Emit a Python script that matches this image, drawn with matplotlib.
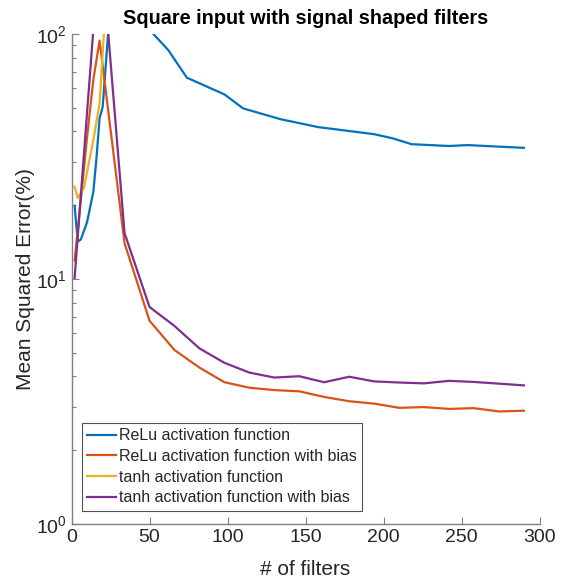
import matplotlib
matplotlib.use("Agg")
import matplotlib.pyplot as plt
from matplotlib.ticker import LogLocator, LogFormatterMathtext, NullFormatter

plt.rcParams['font.family'] = ['Liberation Sans', 'DejaVu Sans']
plt.rcParams['mathtext.fontset'] = 'custom'
plt.rcParams['mathtext.rm'] = 'Liberation Sans'

# Mean squared error (%) versus number of filters
relu_x = [2, 4, 6, 10, 14, 16, 18, 20, 26, 38, 50, 62, 74, 98, 110, 134, 158,
          194, 206, 218, 242, 254, 290]
relu_mse = [19.9, 14.2, 14.5, 17.1, 22.7, 31.1, 45.3, 50.5, 167, 130, 104,
            86.0, 66.3, 56.7, 49.7, 44.9, 41.7, 39.0, 37.5, 35.5, 34.9, 35.2, 34.3]

relu_bias_x = [2, 6, 10, 14, 18, 34, 50, 66, 82, 98, 114, 130, 146, 162, 178,
               194, 210, 226, 242, 258, 274, 290]
relu_bias_mse = [11.9, 21.1, 38.0, 65.0, 94.0, 14.0, 6.76, 5.13, 4.35, 3.79,
                 3.60, 3.52, 3.48, 3.30, 3.17, 3.10, 2.98, 3.00, 2.95, 2.97,
                 2.88, 2.90]

tanh_x = [2, 4, 8, 14, 18, 22]
tanh_mse = [23.8, 21.4, 23.5, 36.9, 52.0, 135]

tanh_bias_x = [2, 6, 10, 14, 18, 22, 34, 50, 66, 82, 98, 114, 130, 146, 162,
               178, 194, 210, 226, 242, 258, 274, 290]
tanh_bias_mse = [10.1, 22.0, 48.0, 104, 170, 133, 15.4, 7.69, 6.43, 5.21, 4.55,
                 4.15, 3.96, 4.01, 3.79, 3.99, 3.82, 3.78, 3.75, 3.84, 3.80,
                 3.74, 3.68]

series_labels = ["ReLu activation function",
                 "ReLu activation function with bias",
                 "tanh activation function",
                 "tanh activation function with bias"]
colors = ["#0072BD", "#D95319", "#EDB120", "#7E2F8E"]

W, H = 564, 584
fig = plt.figure(figsize=(W / 100, H / 100), dpi=100)
ax_left, ax_right, ax_top, ax_bottom = 71.5, 539.5, 34, 524
ax = fig.add_axes([ax_left / W, 1 - ax_bottom / H,
                   (ax_right - ax_left) / W, (ax_bottom - ax_top) / H])

for xs, ys, lab, c in zip([relu_x, relu_bias_x, tanh_x, tanh_bias_x],
                          [relu_mse, relu_bias_mse, tanh_mse, tanh_bias_mse],
                          series_labels, colors):
    ax.plot(xs, ys, color=c, lw=1.6, label=lab)

ax.set_yscale('log')
ax.set_xlim(0, 300)
ax.set_ylim(1, 100)
ax.set_xticks(range(0, 301, 50))
ax.yaxis.set_major_locator(LogLocator(base=10, numticks=5))
ax.yaxis.set_major_formatter(LogFormatterMathtext())
ax.yaxis.set_minor_locator(LogLocator(base=10, subs=range(2, 10), numticks=20))
ax.yaxis.set_minor_formatter(NullFormatter())

axis_grey = "#808080"
text_dark = "#262626"
for side in ['top', 'right']:
    ax.spines[side].set_visible(False)
for side in ['left', 'bottom']:
    ax.spines[side].set_color(axis_grey)
    ax.spines[side].set_linewidth(1.0)
ax.tick_params(which='major', direction='in', length=5, width=0.8,
               color=axis_grey, labelcolor=text_dark, labelsize=14)
ax.tick_params(which='minor', direction='in', length=3, width=0.8,
               color=axis_grey)

ax.set_xlabel("# of filters", fontsize=15, color=text_dark, labelpad=10)
ax.set_ylabel("Mean Squared Error(%)", fontsize=15, color=text_dark, labelpad=0.5)
ax.set_title("Square input with signal shaped filters", fontsize=14.3,
             fontweight='bold', color='black', pad=7.5)

leg = ax.legend(loc='lower left', bbox_to_anchor=(0.022, 0.027),
                borderaxespad=0, fontsize=11.5, frameon=True, fancybox=False,
                handlelength=1.8, handletextpad=0.15, borderpad=0.35,
                labelspacing=0.35)
leg.get_frame().set_edgecolor(text_dark)
leg.get_frame().set_linewidth(0.8)
for t in leg.get_texts():
    t.set_color(text_dark)

fig.savefig("out.png", dpi=100, facecolor='white')
